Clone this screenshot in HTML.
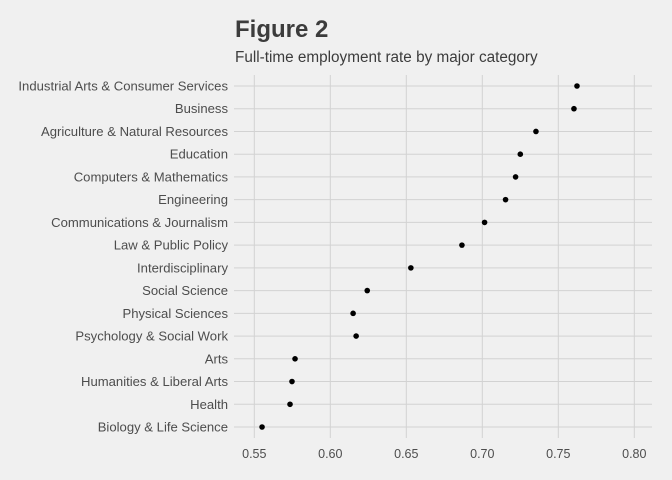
<!DOCTYPE html>
<html><head><meta charset="utf-8"><style>
body{margin:0;background:#f0f0f0;font-family:"Liberation Sans",sans-serif}
svg{display:block}
</style></head><body>
<svg id="c" width="672" height="480">
<rect width="672" height="480" fill="#f0f0f0"/>
<text x="235" y="37" font-size="24" font-weight="bold" fill="#3c3c3c">Figure 2</text>
<text x="235" y="62" font-size="15.3" fill="#3c3c3c">Full-time employment rate by major category</text>
<g id="grid"></g><g id="marks"></g>
</svg>
<script>
const categories=["Industrial Arts & Consumer Services","Business","Agriculture & Natural Resources","Education","Computers & Mathematics","Engineering","Communications & Journalism","Law & Public Policy","Interdisciplinary","Social Science","Physical Sciences","Psychology & Social Work","Arts","Humanities & Liberal Arts","Health","Biology & Life Science"];
const values=[0.7623,0.7603,0.7353,0.725,0.7219,0.7153,0.7015,0.6866,0.653,0.6243,0.615,0.617,0.5768,0.5748,0.5735,0.5551];
const xTicks=[0.55,0.60,0.65,0.70,0.75,0.80];
const xTickLabels=["0.55","0.60","0.65","0.70","0.75","0.80"];
const NS="http://www.w3.org/2000/svg";
const x=v=>254.3+(v-0.55)*1520;
const y=i=>86+i*(427-86)/(categories.length-1);
const g=document.getElementById('grid'),m=document.getElementById('marks');
function mk(t,a,p){const e=document.createElementNS(NS,t);for(const k in a)e.setAttribute(k,a[k]);p.appendChild(e);return e;}
xTicks.forEach((t,i)=>{
 const l=mk('line',{x1:x(t),x2:x(t),y1:75,y2:438,stroke:'#d2d2d2','stroke-width':1},g);
 
 
 const tx=mk('text',{x:x(t),y:458,'font-size':12.5,fill:'#4d4d4d','text-anchor':'middle'},g);
 tx.textContent=xTickLabels[i];
 
 
});
categories.forEach((c,i)=>{
 const l=mk('line',{x1:234,x2:652,y1:y(i),y2:y(i),stroke:'#d2d2d2','stroke-width':1},g);
 
 
 const tx=mk('text',{x:228,y:y(i)+4.5,'font-size':13.1,fill:'#4d4d4d','text-anchor':'end'},g);
 tx.textContent=c;
 
 
 const d=mk('circle',{cx:x(values[i]),cy:y(i),r:2.8,fill:'#000'},m);
 
 
});
</script>
</body></html>
